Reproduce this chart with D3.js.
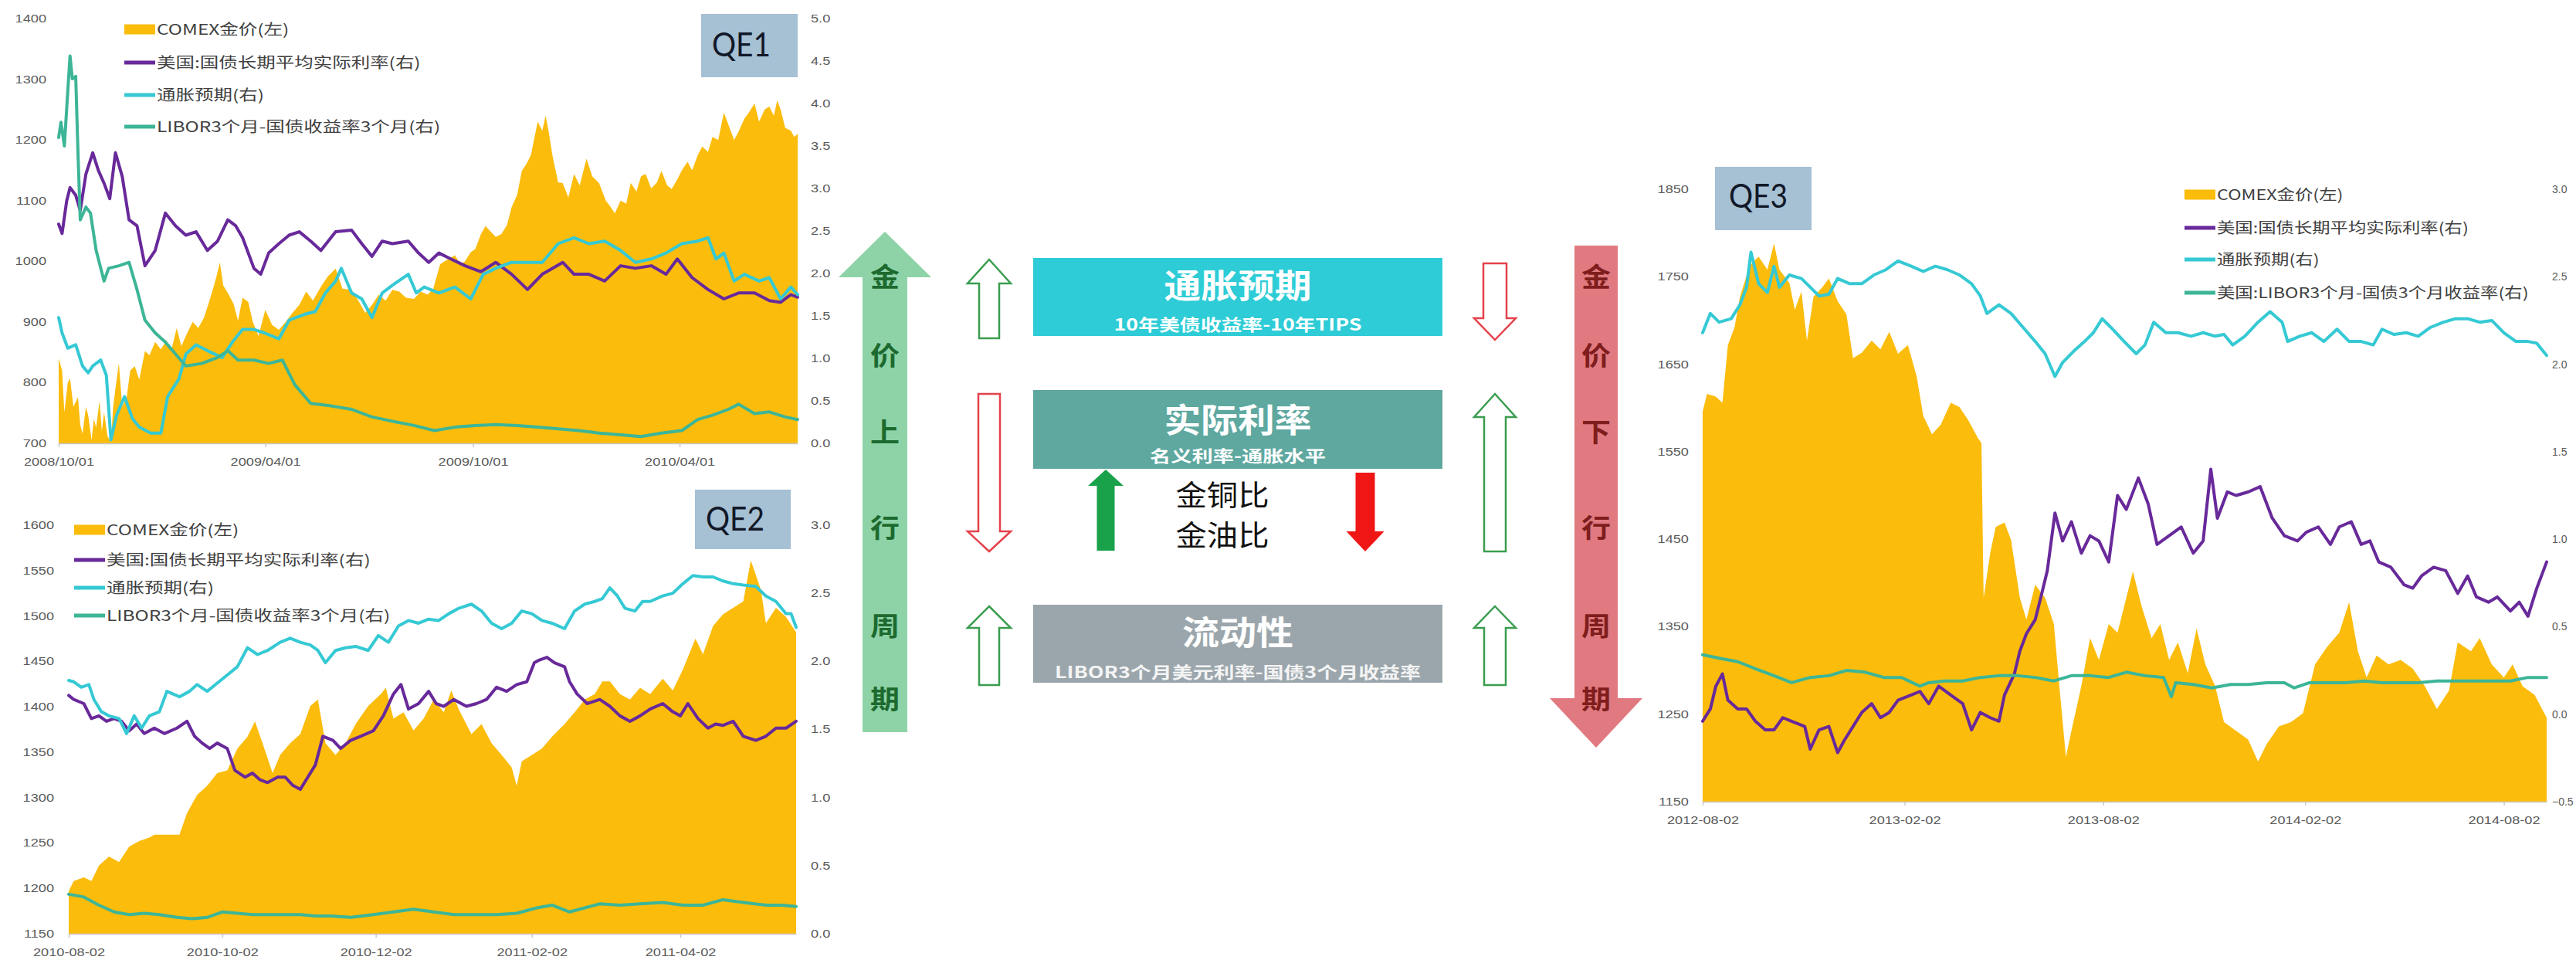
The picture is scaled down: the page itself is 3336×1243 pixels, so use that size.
<!DOCTYPE html>
<html>
<head>
<meta charset="utf-8">
<script src="https://cdn.jsdelivr.net/npm/d3@7"></script>
<style>
  html, body { margin: 0; padding: 0; background: #ffffff; }
  svg { display: block; }
</style>
</head>
<body>
<svg id="chart" width="3336" height="1243"></svg>
<script>
// ---------------------------------------------------------------
// Series: [days since window start, value]
// Gold is COMEX price (left axis, USD/oz); the three rates use the right axis (%).
// ---------------------------------------------------------------

// QE1 window: 2008-10-01 .. 2010-07-14
const qe1Range = ["2008-10-01", "2010-07-14"];
const qe1DateTicks = ["2008-10-01", "2009-04-01", "2009-10-01", "2010-04-01"];
const qe1GoldTicks = [700, 800, 900, 1000, 1100, 1200, 1300, 1400];
const qe1RateTicks = [0, 0.5, 1, 1.5, 2, 2.5, 3, 3.5, 4, 4.5, 5];
const qe1Gold = [[0,840],[3,820],[5,751],[8,800],[10,807],[13,760],[17,776],[19,730],[21,716],[24,760],[26,746],[29,705],[31,740],[33,726],[36,770],[38,720],[40,751],[43,712],[46,702],[48,760],[50,790],[53,832],[56,760],[60,777],[63,820],[67,827],[71,805],[76,852],[80,845],[85,867],[90,855],[95,870],[99,852],[104,890],[108,860],[112,877],[118,900],[123,890],[128,907],[132,930],[136,955],[139,975],[142,998],[145,960],[149,948],[154,930],[158,902],[162,940],[167,933],[171,900],[176,877],[182,920],[188,895],[194,887],[200,900],[206,915],[212,928],[218,950],[224,935],[231,958],[237,975],[244,988],[250,955],[258,953],[264,935],[270,915],[276,928],[282,945],[288,935],[294,953],[300,950],[306,940],[313,938],[319,950],[325,945],[330,955],[336,995],[340,1000],[345,1005],[349,1010],[354,995],[358,1000],[363,1015],[367,1020],[372,1045],[376,1058],[380,1050],[385,1040],[390,1045],[395,1060],[399,1089],[404,1110],[408,1149],[412,1160],[416,1175],[422,1230],[426,1215],[429,1240],[432,1210],[435,1174],[440,1130],[444,1129],[449,1105],[454,1144],[459,1125],[465,1169],[470,1140],[476,1129],[482,1100],[486,1090],[490,1079],[495,1100],[500,1095],[504,1129],[509,1115],[513,1140],[517,1144],[522,1120],[527,1130],[531,1149],[536,1125],[540,1119],[545,1135],[549,1150],[554,1164],[558,1150],[563,1175],[567,1189],[572,1180],[576,1205],[581,1200],[586,1245],[590,1225],[595,1200],[599,1214],[604,1235],[608,1245],[613,1260],[617,1230],[622,1250],[626,1255],[630,1240],[633,1265],[636,1250],[640,1220],[645,1215],[648,1205],[651,1210]];
const qe1RealRate = [[0,2.58],[3,2.47],[7,2.85],[10,3.01],[15,2.92],[19,2.74],[24,3.17],[30,3.42],[35,3.21],[40,3.06],[45,2.88],[50,3.42],[56,3.14],[62,2.63],[69,2.56],[76,2.09],[85,2.27],[94,2.71],[103,2.56],[112,2.45],[121,2.49],[131,2.27],[140,2.38],[149,2.63],[156,2.56],[162,2.42],[172,2.06],[178,1.99],[185,2.24],[194,2.35],[203,2.45],[212,2.49],[222,2.38],[231,2.27],[244,2.49],[258,2.51],[267,2.35],[276,2.20],[285,2.38],[294,2.35],[308,2.38],[317,2.24],[326,2.13],[335,2.24],[344,2.18],[358,2.09],[372,2.02],[385,2.13],[399,1.99],[413,1.81],[426,1.99],[435,2.06],[444,2.13],[454,1.99],[467,1.99],[481,1.91],[495,2.09],[508,2.06],[522,2.09],[535,1.99],[545,2.17],[558,1.95],[572,1.81],[586,1.70],[599,1.77],[613,1.77],[626,1.68],[636,1.66],[645,1.75],[651,1.72]];
const qe1Inflation = [[0,1.48],[3,1.30],[8,1.12],[15,1.16],[21,0.91],[26,0.83],[30,0.91],[37,0.98],[42,0.80],[46,0.04],[51,0.33],[58,0.55],[65,0.29],[71,0.19],[81,0.12],[90,0.12],[96,0.55],[106,0.76],[112,1.05],[121,1.16],[131,1.09],[144,1.01],[153,1.19],[162,1.34],[172,1.34],[181,1.30],[194,1.23],[203,1.45],[217,1.52],[226,1.55],[235,1.77],[244,1.91],[249,2.06],[258,1.77],[267,1.70],[276,1.48],[285,1.77],[294,1.86],[308,1.99],[315,1.77],[322,1.84],[335,1.77],[349,1.84],[363,1.70],[374,1.99],[385,2.06],[399,2.13],[413,2.13],[426,2.13],[440,2.35],[454,2.42],[467,2.35],[481,2.38],[495,2.27],[508,2.13],[522,2.17],[535,2.24],[549,2.35],[563,2.38],[572,2.42],[579,2.17],[586,2.24],[595,1.91],[604,1.99],[617,1.91],[626,1.95],[636,1.70],[645,1.84],[651,1.75]];
const qe1Liquidity = [[0,3.60],[2,3.78],[5,3.50],[8,4.14],[10,4.56],[12,4.29],[15,4.32],[17,3.42],[19,2.63],[24,2.78],[28,2.71],[33,2.27],[40,1.91],[44,2.06],[53,2.09],[62,2.13],[69,1.81],[76,1.45],[85,1.30],[94,1.19],[103,1.05],[112,0.91],[126,0.94],[140,1.01],[149,1.09],[158,0.98],[172,0.98],[185,0.94],[197,0.98],[208,0.69],[222,0.47],[240,0.44],[258,0.40],[276,0.31],[294,0.26],[313,0.21],[331,0.15],[349,0.19],[367,0.21],[385,0.22],[404,0.21],[422,0.19],[440,0.17],[458,0.15],[476,0.12],[495,0.10],[513,0.08],[531,0.12],[549,0.15],[563,0.28],[576,0.33],[590,0.40],[599,0.46],[613,0.35],[626,0.37],[640,0.31],[651,0.28]];

// QE2 window: 2010-08-02 .. 2011-05-18
const qe2Range = ["2010-08-02", "2011-05-18"];
const qe2DateTicks = ["2010-08-02", "2010-10-02", "2010-12-02", "2011-02-02", "2011-04-02"];
const qe2GoldTicks = [1150, 1200, 1250, 1300, 1350, 1400, 1450, 1500, 1550, 1600];
const qe2RateTicks = [0, 0.5, 1, 1.5, 2, 2.5, 3];
const qe2Gold = [[0,1197],[2,1208],[6,1212],[9,1208],[12,1225],[16,1235],[20,1229],[24,1246],[28,1252],[32,1256],[34,1259],[38,1259],[44,1259],[47,1283],[51,1303],[55,1313],[59,1327],[63,1330],[67,1354],[71,1367],[74,1384],[77,1360],[81,1327],[84,1347],[88,1360],[92,1370],[96,1401],[99,1408],[102,1360],[106,1347],[110,1360],[114,1381],[119,1401],[124,1414],[126,1421],[129,1387],[133,1394],[137,1374],[141,1387],[145,1408],[149,1394],[152,1418],[155,1397],[160,1370],[164,1381],[168,1360],[172,1347],[176,1333],[178,1313],[180,1340],[184,1347],[188,1354],[192,1367],[197,1381],[201,1394],[205,1408],[209,1414],[212,1428],[215,1428],[219,1414],[223,1408],[227,1421],[231,1414],[236,1431],[240,1418],[244,1441],[249,1475],[252,1458],[256,1489],[260,1502],[264,1509],[268,1516],[271,1561],[275,1529],[277,1492],[281,1509],[285,1499],[289,1482]];
const qe2RealRate = [[0,1.75],[2,1.72],[6,1.69],[9,1.58],[12,1.60],[15,1.56],[18,1.58],[21,1.56],[24,1.49],[27,1.54],[30,1.47],[34,1.51],[38,1.47],[43,1.51],[47,1.56],[50,1.45],[53,1.40],[56,1.36],[59,1.40],[63,1.36],[66,1.20],[70,1.15],[73,1.18],[76,1.13],[79,1.11],[83,1.15],[86,1.15],[89,1.09],[92,1.06],[95,1.15],[98,1.24],[101,1.45],[105,1.42],[108,1.36],[112,1.42],[116,1.45],[121,1.49],[125,1.60],[129,1.76],[132,1.83],[135,1.65],[139,1.69],[143,1.78],[146,1.69],[149,1.67],[153,1.72],[158,1.67],[162,1.69],[166,1.72],[170,1.81],[174,1.78],[178,1.83],[182,1.85],[185,1.99],[187,2.01],[190,2.03],[193,1.99],[197,1.96],[199,1.85],[202,1.76],[206,1.69],[211,1.72],[215,1.67],[219,1.60],[223,1.56],[227,1.60],[231,1.65],[236,1.69],[240,1.63],[243,1.60],[246,1.69],[250,1.58],[254,1.51],[257,1.54],[260,1.53],[264,1.56],[268,1.45],[273,1.42],[277,1.45],[281,1.51],[285,1.51],[289,1.56]];
const qe2Inflation = [[0,1.86],[2,1.85],[5,1.81],[8,1.83],[10,1.72],[13,1.63],[16,1.60],[20,1.58],[23,1.47],[26,1.60],[29,1.51],[32,1.60],[36,1.63],[39,1.78],[44,1.74],[48,1.78],[51,1.83],[55,1.78],[59,1.84],[63,1.90],[67,1.96],[71,2.10],[75,2.05],[79,2.08],[84,2.14],[88,2.17],[92,2.14],[96,2.12],[99,2.08],[102,1.99],[106,2.08],[110,2.10],[114,2.11],[119,2.08],[123,2.19],[127,2.14],[131,2.26],[135,2.30],[139,2.28],[143,2.31],[147,2.30],[151,2.35],[155,2.39],[160,2.42],[164,2.37],[168,2.28],[172,2.24],[176,2.28],[180,2.37],[184,2.35],[188,2.30],[192,2.28],[197,2.24],[201,2.37],[205,2.42],[209,2.44],[212,2.46],[215,2.54],[218,2.48],[221,2.39],[225,2.37],[228,2.44],[231,2.44],[236,2.48],[240,2.50],[244,2.57],[248,2.63],[252,2.62],[256,2.62],[260,2.59],[264,2.57],[268,2.56],[273,2.55],[277,2.48],[281,2.44],[285,2.35],[287,2.35],[289,2.25]];
const qe2Liquidity = [[0,0.29],[6,0.27],[12,0.21],[18,0.16],[24,0.14],[30,0.15],[36,0.14],[43,0.12],[49,0.11],[55,0.12],[61,0.16],[67,0.15],[73,0.14],[79,0.14],[86,0.14],[92,0.14],[98,0.13],[104,0.13],[112,0.12],[121,0.14],[129,0.16],[137,0.18],[145,0.16],[153,0.14],[162,0.14],[170,0.14],[178,0.15],[186,0.19],[192,0.21],[199,0.16],[205,0.19],[211,0.22],[219,0.21],[227,0.22],[236,0.23],[244,0.21],[252,0.21],[260,0.25],[268,0.23],[277,0.21],[283,0.21],[289,0.20]];

// QE3 window: 2012-08-02 .. 2014-09-10
const qe3Range = ["2012-08-02", "2014-09-10"];
const qe3DateTicks = ["2012-08-02", "2013-02-02", "2013-08-02", "2014-02-02", "2014-08-02"];
const qe3GoldTicks = [1150, 1250, 1350, 1450, 1550, 1650, 1750, 1850];
const qe3RateTicks = [-0.5, 0, 0.5, 1, 1.5, 2, 2.5, 3];
const qe3Gold = [[0,1596],[4,1616],[12,1613],[18,1606],[23,1672],[29,1692],[34,1727],[43,1763],[51,1773],[59,1758],[65,1788],[70,1758],[79,1743],[84,1712],[90,1733],[95,1677],[101,1727],[109,1738],[115,1748],[123,1722],[131,1707],[137,1657],[145,1663],[154,1677],[162,1667],[170,1687],[178,1662],[187,1672],[195,1636],[201,1591],[209,1570],[217,1581],[226,1606],[234,1601],[242,1586],[251,1565],[254,1560],[256,1383],[262,1434],[267,1464],[275,1469],[281,1449],[289,1383],[295,1358],[303,1398],[312,1383],[320,1353],[325,1282],[331,1201],[336,1231],[345,1282],[353,1337],[361,1312],[370,1353],[378,1343],[386,1383],[392,1413],[400,1373],[409,1337],[417,1353],[425,1312],[433,1332],[442,1297],[450,1348],[458,1307],[467,1282],[475,1241],[486,1231],[497,1221],[506,1196],[514,1216],[525,1236],[536,1241],[547,1251],[558,1307],[569,1327],[580,1343],[589,1378],[597,1322],[605,1292],[614,1317],[625,1307],[636,1312],[647,1302],[658,1282],[669,1256],[680,1277],[688,1332],[700,1322],[708,1337],[719,1307],[730,1292],[738,1307],[747,1282],[758,1272],[769,1246]];
const qe3RealRate = [[0,-0.04],[7,0.03],[12,0.16],[18,0.23],[23,0.08],[32,0.03],[40,0.03],[48,-0.04],[57,-0.09],[65,-0.09],[73,-0.02],[81,-0.04],[93,-0.07],[98,-0.20],[106,-0.09],[115,-0.07],[123,-0.22],[129,-0.15],[137,-0.07],[145,0.01],[154,0.06],[162,-0.02],[170,0.01],[178,0.08],[190,0.11],[198,0.13],[206,0.06],[215,0.16],[226,0.11],[237,0.06],[245,-0.09],[253,0.01],[262,-0.02],[270,-0.04],[275,0.11],[284,0.23],[289,0.36],[295,0.46],[303,0.54],[309,0.69],[314,0.82],[321,1.15],[328,0.99],[336,1.10],[345,0.92],[353,1.02],[361,0.99],[370,0.87],[378,1.25],[386,1.17],[397,1.35],[406,1.20],[414,0.97],[425,1.02],[436,1.07],[447,0.92],[456,0.99],[463,1.40],[469,1.12],[478,1.27],[486,1.25],[497,1.27],[508,1.30],[519,1.12],[530,1.02],[542,0.99],[550,1.04],[561,1.07],[572,0.97],[580,1.07],[591,1.10],[600,0.97],[608,0.99],[616,0.87],[627,0.84],[639,0.74],[647,0.72],[655,0.79],[666,0.84],[677,0.82],[688,0.69],[697,0.79],[705,0.67],[716,0.64],[724,0.67],[736,0.59],[744,0.64],[752,0.56],[760,0.72],[769,0.87]];
const qe3Inflation = [[0,2.18],[7,2.29],[15,2.24],[26,2.26],[34,2.34],[40,2.44],[44,2.64],[51,2.46],[59,2.41],[65,2.56],[70,2.44],[79,2.51],[90,2.49],[98,2.44],[106,2.39],[115,2.40],[123,2.49],[134,2.46],[145,2.46],[156,2.51],[167,2.54],[178,2.59],[190,2.56],[201,2.53],[212,2.56],[223,2.54],[234,2.51],[245,2.46],[253,2.39],[259,2.29],[270,2.34],[281,2.29],[292,2.21],[303,2.13],[312,2.06],[321,1.93],[328,2.01],[339,2.08],[348,2.13],[356,2.18],[364,2.26],[372,2.21],[384,2.13],[395,2.06],[403,2.11],[411,2.24],[422,2.18],[433,2.18],[445,2.16],[456,2.18],[467,2.16],[475,2.17],[483,2.11],[494,2.16],[506,2.24],[517,2.30],[528,2.24],[533,2.13],[544,2.16],[555,2.18],[566,2.13],[578,2.20],[589,2.13],[600,2.13],[611,2.11],[619,2.20],[630,2.17],[641,2.18],[652,2.16],[663,2.21],[675,2.24],[686,2.26],[697,2.26],[708,2.24],[719,2.25],[730,2.18],[741,2.13],[752,2.13],[760,2.12],[769,2.05]];
const qe3Liquidity = [[0,0.34],[15,0.32],[32,0.30],[48,0.26],[65,0.22],[81,0.18],[98,0.21],[115,0.22],[131,0.25],[148,0.24],[165,0.21],[181,0.21],[198,0.16],[206,0.18],[220,0.19],[237,0.19],[253,0.21],[270,0.22],[287,0.22],[303,0.21],[320,0.19],[336,0.22],[353,0.22],[370,0.21],[386,0.24],[403,0.22],[420,0.21],[427,0.10],[431,0.18],[447,0.17],[464,0.15],[481,0.17],[497,0.17],[514,0.18],[530,0.18],[539,0.15],[553,0.18],[569,0.18],[586,0.18],[603,0.19],[619,0.18],[636,0.18],[652,0.18],[669,0.19],[686,0.19],[702,0.19],[719,0.19],[736,0.19],[752,0.21],[769,0.21]];

// Legend labels
const legendQE12 = ["COMEX金价(左)", "美国:国债长期平均实际利率(右)", "通胀预期(右)", "LIBOR3个月-国债收益率3个月(右)"];
const legendQE3 = ["COMEX金价(左)", "美国:国债长期平均实际利率(右)", "通胀预期(右)", "美国:LIBOR3个月-国债3个月收益率(右)"];

// ---------------------------------------------------------------
// Styles
// ---------------------------------------------------------------
const GOLD = "#fbbc0c", PURPLE = "#68299a", CYAN = "#35c9d4", TEAL = "#3db597";
const seriesColors = [GOLD, PURPLE, CYAN, TEAL];
const NUM_FONT = "'Liberation Sans', Arial, sans-serif";
const CJK_FONT = "'Noto Sans CJK SC', 'Noto Sans', sans-serif";

const svg = d3.select("#chart");
const parse = d3.utcParse("%Y-%m-%d");

// widen text horizontally around its own anchor point
function stretch(sel, k) {
  sel.each(function () {
    const t = d3.select(this);
    const x = +t.attr("x") || 0;
    const y = +t.attr("y") || 0;
    t.attr("transform", `translate(${x},${y}) scale(${k},1) translate(${-x},${-y})`);
  });
}

function styleTicks(axisG, k) {
  axisG.selectAll("text")
    .attr("font-family", NUM_FONT)
    .attr("font-size", 14)
    .attr("fill", "#5a5a5a");
  stretch(axisG.selectAll("text"), k);
}

function drawPanel(p) {
  const g = svg.append("g");
  const t0 = parse(p.range[0]), t1 = parse(p.range[1]);
  const x = d3.scaleUtc().domain([t0, t1]).range([p.left, p.right]);
  const yGold = d3.scaleLinear().domain(p.goldDomain).range([p.bottom, p.top]);
  const yRate = d3.scaleLinear().domain(p.rateDomain).range([p.bottom, p.top]);
  const when = d => d3.utcDay.offset(t0, d[0]);

  // gold price as filled area
  g.append("path")
    .attr("d", d3.area()
      .x(d => x(when(d)))
      .y0(yGold(p.goldDomain[0]))
      .y1(d => yGold(d[1]))(p.gold))
    .attr("fill", GOLD);

  // rate lines
  const line = d3.line().x(d => x(when(d))).y(d => yRate(d[1]));
  [[p.real, PURPLE], [p.infl, CYAN], [p.liq, TEAL]].forEach(([data, color]) => {
    g.append("path")
      .attr("d", line(data))
      .attr("fill", "none")
      .attr("stroke", color)
      .attr("stroke-width", 4)
      .attr("stroke-linejoin", "round")
      .attr("stroke-linecap", "round");
  });

  // left axis (gold)
  const aL = g.append("g").attr("transform", `translate(${p.left},0)`)
    .call(d3.axisLeft(yGold).tickValues(p.goldTicks).tickSize(0).tickPadding(p.padL).tickFormat(d3.format("d")));
  aL.select(".domain").remove();
  styleTicks(aL, 1.3);

  // right axis (rates)
  const aR = g.append("g").attr("transform", `translate(${p.right},0)`)
    .call(d3.axisRight(yRate).tickValues(p.rateTicks).tickSize(0).tickPadding(p.padR).tickFormat(d3.format(".1f")));
  aR.select(".domain").remove();
  styleTicks(aR, p.rightStretch);

  // bottom date axis
  const aB = g.append("g").attr("transform", `translate(0,${p.bottom})`)
    .call(d3.axisBottom(x).tickValues(p.dateTicks.map(parse)).tickFormat(d3.utcFormat(p.dateFormat))
      .tickSize(5).tickSizeOuter(0).tickPadding(14));
  aB.select(".domain").attr("stroke", "#c8c8c8").attr("stroke-width", 1.5);
  aB.selectAll(".tick line").attr("stroke", "#c8c8c8").attr("stroke-width", 1.5);
  styleTicks(aB, 1.3);

  // legend
  const lg = g.append("g");
  p.legend.forEach((label, i) => {
    const y = p.legendY[i];
    if (i === 0) {
      lg.append("rect").attr("x", p.legendX).attr("y", y - 6.5).attr("width", 40).attr("height", 13).attr("fill", seriesColors[i]);
    } else {
      lg.append("line").attr("x1", p.legendX).attr("x2", p.legendX + 40).attr("y1", y).attr("y2", y)
        .attr("stroke", seriesColors[i]).attr("stroke-width", 5);
    }
    const t = lg.append("text").attr("x", p.legendX + 42).attr("y", y).attr("dy", "0.36em")
      .attr("font-family", CJK_FONT).attr("font-size", 19).attr("fill", "#404040").text(label);
    stretch(t, p.legendStretch);
  });

  // QE tag
  g.append("rect").attr("x", p.tag[0]).attr("y", p.tag[1]).attr("width", p.tag[2]).attr("height", p.tag[3]).attr("fill", "#a6c0d4");
  g.append("text").attr("x", p.tagText[0]).attr("y", p.tagText[1]).attr("dy", "0.36em")
    .attr("text-anchor", "middle").attr("font-family", "Lato, 'Open Sans', sans-serif").attr("font-size", 42)
    .attr("fill", "#111827").attr("textLength", 76).attr("lengthAdjust", "spacingAndGlyphs").text(p.tagLabel);
}

drawPanel({
  range: qe1Range, dateTicks: qe1DateTicks, dateFormat: "%Y/%m/%d",
  goldDomain: [700, 1400], rateDomain: [0, 5], goldTicks: qe1GoldTicks, rateTicks: qe1RateTicks,
  gold: qe1Gold, real: qe1RealRate, infl: qe1Inflation, liq: qe1Liquidity,
  left: 76, right: 1033, top: 24, bottom: 574, padL: 16, padR: 17, rightStretch: 1.3,
  legend: legendQE12, legendX: 161, legendY: [38, 81, 123, 164], legendStretch: 1.29,
  tag: [908, 18, 125, 82], tagText: [960, 58], tagLabel: "QE1"
});

drawPanel({
  range: qe2Range, dateTicks: qe2DateTicks, dateFormat: "%Y-%m-%d",
  goldDomain: [1150, 1600], rateDomain: [0, 3], goldTicks: qe2GoldTicks, rateTicks: qe2RateTicks,
  gold: qe2Gold, real: qe2RealRate, infl: qe2Inflation, liq: qe2Liquidity,
  left: 89, right: 1031, top: 680, bottom: 1209, padL: 19, padR: 19, rightStretch: 1.3,
  legend: legendQE12, legendX: 96, legendY: [686, 725, 761, 797], legendStretch: 1.29,
  tag: [900, 634, 124, 77], tagText: [952, 672], tagLabel: "QE2"
});

drawPanel({
  range: qe3Range, dateTicks: qe3DateTicks, dateFormat: "%Y-%m-%d",
  goldDomain: [1150, 1850], rateDomain: [-0.5, 3], goldTicks: qe3GoldTicks, rateTicks: qe3RateTicks,
  gold: qe3Gold, real: qe3RealRate, infl: qe3Inflation, liq: qe3Liquidity,
  left: 2205, right: 3298, top: 245, bottom: 1038, padL: 18, padR: 7, rightStretch: 1.0,
  legend: legendQE3, legendX: 2829, legendY: [252, 295, 336, 379], legendStretch: 1.23,
  tag: [2221, 216, 125, 82], tagText: [2277, 254], tagLabel: "QE3"
});

// ---------------------------------------------------------------
// Driver diagram between the panels
// ---------------------------------------------------------------
const dg = svg.append("g");

// arrow outline: tip, head base, tail end along y; centred on cx
function arrow(cx, tipY, baseY, endY, headHalf, shaftHalf) {
  return `M${cx},${tipY} L${cx + headHalf},${baseY} L${cx + shaftHalf},${baseY} L${cx + shaftHalf},${endY} ` +
         `L${cx - shaftHalf},${endY} L${cx - shaftHalf},${baseY} L${cx - headHalf},${baseY} Z`;
}

// large cycle arrows
dg.append("path").attr("d", arrow(1146, 300, 359, 948, 60, 29)).attr("fill", "#8dd3a7");
dg.append("path").attr("d", arrow(2067, 968, 904, 318, 60, 28)).attr("fill", "#e07a80");

const charY = [359, 461, 560, 684, 811, 906];
const upText = ["金", "价", "上", "行", "周", "期"];
const downText = ["金", "价", "下", "行", "周", "期"];
upText.forEach((c, i) => {
  dg.append("text").attr("x", 1146).attr("y", charY[i]).attr("dy", "0.36em").attr("text-anchor", "middle")
    .attr("font-family", CJK_FONT).attr("font-weight", 700).attr("font-size", 34).attr("fill", "#1d6a2f")
    .attr("textLength", 38).attr("lengthAdjust", "spacingAndGlyphs").text(c);
});
downText.forEach((c, i) => {
  dg.append("text").attr("x", 2067).attr("y", charY[i]).attr("dy", "0.36em").attr("text-anchor", "middle")
    .attr("font-family", CJK_FONT).attr("font-weight", 700).attr("font-size", 34).attr("fill", "#7f1d1d")
    .attr("textLength", 38).attr("lengthAdjust", "spacingAndGlyphs").text(c);
});

// factor boxes
const boxes = [
  { y: 334, h: 101, fill: "#2dccd6", title: "通胀预期", titleW: 191, titleY: 371, sub: "10年美债收益率-10年TIPS", subW: 321, subY: 420, subFill: "#ffffff" },
  { y: 505, h: 102, fill: "#5ea8a0", title: "实际利率", titleW: 191, titleY: 545, sub: "名义利率-通胀水平", subW: 228, subY: 590, subFill: "#ffffff" },
  { y: 783, h: 101, fill: "#9ba6ac", title: "流动性", titleW: 144, titleY: 820, sub: "LIBOR3个月美元利率-国债3个月收益率", subW: 474, subY: 870, subFill: "#f4f4f4" }
];
boxes.forEach(b => {
  dg.append("rect").attr("x", 1338).attr("y", b.y).attr("width", 530).attr("height", b.h).attr("fill", b.fill);
  dg.append("text").attr("x", 1603).attr("y", b.titleY).attr("dy", "0.36em").attr("text-anchor", "middle")
    .attr("font-family", CJK_FONT).attr("font-weight", 700).attr("font-size", 43).attr("fill", "#ffffff")
    .attr("textLength", b.titleW).attr("lengthAdjust", "spacingAndGlyphs").text(b.title);
  dg.append("text").attr("x", 1603).attr("y", b.subY).attr("dy", "0.36em").attr("text-anchor", "middle")
    .attr("font-family", CJK_FONT).attr("font-weight", 700).attr("font-size", 21).attr("fill", b.subFill)
    .attr("textLength", b.subW).attr("lengthAdjust", "spacingAndGlyphs").text(b.sub);
});

// hollow direction arrows beside each factor
const GREEN_EDGE = "#3a9d4f", RED_EDGE = "#e5414a";
const hollow = [
  [1281, 336, 367, 438, 28, 13, GREEN_EDGE],
  [1281, 714, 688, 510, 28, 14, RED_EDGE],
  [1281, 785, 813, 887, 28, 13, GREEN_EDGE],
  [1936, 440, 412, 341, 27, 15, RED_EDGE],
  [1936, 510, 540, 714, 27, 14, GREEN_EDGE],
  [1936, 785, 813, 887, 27, 14, GREEN_EDGE]
];
hollow.forEach(a => {
  dg.append("path").attr("d", arrow(a[0], a[1], a[2], a[3], a[4], a[5]))
    .attr("fill", "#ffffff").attr("stroke", a[6]).attr("stroke-width", 2.5).attr("stroke-linejoin", "miter");
});

// solid arrows for the ratio indicators
dg.append("path").attr("d", arrow(1432, 608, 629, 713, 23, 11.5)).attr("fill", "#19a24a");
dg.append("path").attr("d", arrow(1768, 714, 688, 612, 24.5, 12.5)).attr("fill", "#f01616");

[["金铜比", 642], ["金油比", 694]].forEach(([s, y]) => {
  dg.append("text").attr("x", 1583).attr("y", y).attr("dy", "0.36em").attr("text-anchor", "middle")
    .attr("font-family", CJK_FONT).attr("font-size", 37).attr("fill", "#111111")
    .attr("textLength", 121).attr("lengthAdjust", "spacingAndGlyphs").text(s);
});
</script>
</body>
</html>
